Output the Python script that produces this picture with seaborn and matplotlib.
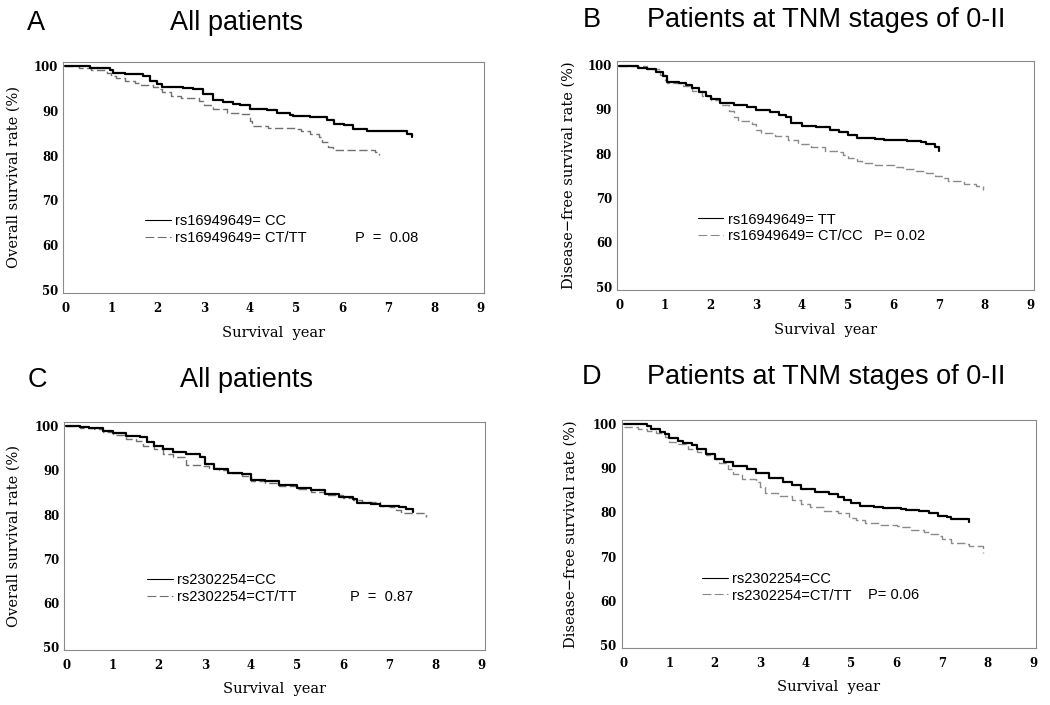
import matplotlib
matplotlib.use('Agg')
import matplotlib.pyplot as plt
from matplotlib.lines import Line2D
import seaborn as sns

# ---- data (year, survival %) ----
# panel A: all patients, rs16949649, overall survival
a_cc_t = [0, 0.53, 0.96, 1.03, 1.3, 1.69, 1.83, 1.98, 2.1, 2.55, 2.77, 2.99, 3.2, 3.42, 3.64, 3.78,
          4.0, 4.36, 4.58, 4.87, 4.94, 5.3, 5.67, 5.81, 6.03, 6.24, 6.53, 7.33, 7.4, 7.51]
a_cc_s = [100, 99.5, 99.0, 98.5, 98.3, 97.8, 96.6, 96.0, 95.3, 95.1, 94.8, 93.8, 92.5, 91.9, 91.5, 91.3,
          90.5, 90.2, 89.6, 89.1, 88.8, 88.6, 88.0, 87.1, 86.9, 85.9, 85.5, 85.5, 84.9, 84.1]
a_ct_t = [0, 0.3, 0.55, 0.9, 1.0, 1.1, 1.3, 1.5, 1.6, 1.9, 2.0, 2.1, 2.3, 2.5, 2.9, 3.0, 3.2, 3.5,
          3.8, 4.0, 4.05, 4.4, 5.0, 5.1, 5.3, 5.5, 5.55, 5.7, 5.8, 6.7, 6.8]
a_ct_s = [100, 99.6, 99.0, 98.5, 97.8, 97.3, 96.7, 96.3, 95.8, 95.4, 94.8, 94.3, 93.4, 92.9, 92.2, 91.3, 90.5, 89.4,
          89.3, 87.8, 86.7, 86.2, 86.0, 85.5, 84.8, 84.2, 83.0, 82.0, 81.2, 80.7, 80.1]

# panel B: TNM 0-II, rs16949649, disease-free survival
b_tt_t = [0, 0.4, 0.6, 0.8, 0.95, 1.05, 1.3, 1.45, 1.6, 1.75, 1.9, 2.0, 2.2, 2.5, 2.8, 3.0, 3.3, 3.5,
          3.65, 3.75, 4.0, 4.3, 4.6, 4.8, 5.0, 5.2, 5.6, 5.8, 6.2, 6.3, 6.6, 6.7, 6.9, 7.0]
b_tt_s = [99.7, 99.3, 99.0, 98.4, 97.5, 96.2, 95.8, 95.4, 94.7, 93.8, 92.9, 92.2, 91.4, 91.0, 90.6, 89.9, 89.3, 88.7,
          88.3, 86.9, 86.3, 86.0, 85.4, 84.8, 84.1, 83.6, 83.4, 83.1, 83.0, 82.8, 82.6, 82.1, 81.4, 80.6]
b_ct_t = [0, 0.6, 0.9, 1.0, 1.05, 1.4, 1.6, 1.8, 2.0, 2.2, 2.4, 2.5, 2.6, 2.9, 3.0, 3.1, 3.4, 3.7, 3.9,
          4.2, 4.5, 4.8, 4.9, 5.0, 5.2, 5.3, 5.6, 6.0, 6.2, 6.5, 6.7, 6.9, 7.1, 7.2, 7.55, 7.8, 7.95]
b_ct_s = [99.7, 99.0, 97.8, 96.5, 95.8, 95.2, 94.0, 93.0, 92.0, 90.9, 89.6, 88.3, 87.4, 86.7, 85.4, 84.6, 83.9, 83.1, 82.2,
          81.5, 80.7, 80.4, 79.6, 79.0, 78.3, 77.9, 77.5, 77.1, 76.5, 76.2, 75.6, 75.0, 74.6, 73.9, 73.1, 72.7, 71.8]

# panel C: all patients, rs2302254, overall survival
c_cc_t = [0, 0.3, 0.5, 0.8, 1.0, 1.3, 1.6, 1.75, 1.9, 2.1, 2.3, 2.6, 2.9, 3.0, 3.2, 3.5, 3.8, 4.0,
          4.3, 4.6, 5.0, 5.3, 5.6, 5.9, 6.2, 6.3, 6.6, 6.8, 7.2, 7.35, 7.5]
c_cc_s = [100, 99.9, 99.5, 99.0, 98.5, 97.9, 97.5, 96.5, 95.6, 94.8, 94.2, 93.8, 93.0, 91.5, 90.4, 89.5, 89.2, 87.9,
          87.5, 86.6, 85.9, 85.5, 84.6, 84.0, 83.5, 82.7, 82.3, 81.9, 81.6, 81.3, 80.6]
c_ct_t = [0, 0.3, 0.6, 0.8, 1.0, 1.3, 1.5, 1.65, 1.9, 2.1, 2.3, 2.6, 2.9, 3.1, 3.3, 3.5, 3.8, 4.0,
          4.3, 4.6, 5.0, 5.3, 5.6, 6.0, 6.2, 6.4, 6.8, 7.0, 7.15, 7.25, 7.7, 7.8]
c_ct_s = [100, 99.5, 99.3, 98.7, 98.0, 97.2, 96.6, 95.6, 94.8, 93.7, 93.0, 91.2, 91.0, 90.6, 90.0, 89.4, 88.8, 87.6,
          87.1, 86.4, 85.7, 85.2, 84.5, 83.7, 83.4, 82.8, 82.0, 81.6, 81.1, 80.4, 80.4, 79.4]

# panel D: TNM 0-II, rs2302254, disease-free survival
d_cc_t = [0, 0.4, 0.5, 0.6, 0.8, 0.9, 1.0, 1.2, 1.3, 1.5, 1.6, 1.8, 2.0, 2.2, 2.4, 2.7, 2.9, 3.2, 3.5,
          3.7, 3.9, 4.2, 4.5, 4.7, 4.85, 5.0, 5.2, 5.5, 5.7, 6.1, 6.2, 6.5, 6.7, 6.9, 7.1, 7.2, 7.5, 7.6]
d_cc_s = [100, 100, 99.5, 98.8, 98.3, 97.8, 96.9, 96.1, 95.8, 95.3, 94.4, 93.3, 92.2, 91.5, 90.6, 89.9, 88.9, 87.9, 86.8,
          86.3, 85.2, 84.6, 84.1, 83.6, 82.8, 82.2, 81.5, 81.2, 80.9, 80.8, 80.5, 80.4, 79.9, 79.3, 78.9, 78.6, 78.4, 77.8]
d_ct_t = [0, 0.3, 0.5, 0.7, 0.9, 1.0, 1.2, 1.4, 1.6, 1.8, 2.0, 2.1, 2.3, 2.4, 2.6, 2.9, 3.0, 3.1, 3.4,
          3.7, 3.9, 4.1, 4.4, 4.7, 4.95, 5.1, 5.3, 5.6, 6.0, 6.1, 6.3, 6.6, 6.7, 6.9, 7.0, 7.2, 7.5, 7.6, 7.85, 7.9]
d_ct_s = [99.3, 98.8, 98.5, 97.9, 97.0, 96.0, 95.4, 94.3, 93.8, 93.0, 92.0, 91.2, 89.9, 88.7, 87.5, 86.8, 85.8, 84.3, 83.8,
          82.8, 82.0, 81.2, 80.4, 79.8, 78.7, 78.2, 77.5, 77.2, 77.0, 76.7, 76.0, 75.6, 75.0, 74.6, 74.0, 73.1, 72.9, 72.4, 72.3, 70.9]

x_ticks = list(range(0, 10))
y_ticks = [50, 60, 70, 80, 90, 100]

panels = [
    # letter, title, ylabel, solid series, dashed series, legend labels, p-text, axes rect (fig fraction)
    dict(letter='A', title='All patients', ylabel='Overall survival rate (%)',
         solid=(a_cc_t, a_cc_s), dashed=(a_ct_t, a_ct_s),
         labels=['rs16949649= CC', 'rs16949649= CT/TT'], ptext='P  =  0.08',
         rect=[0.060, 0.5844, 0.401, 0.3277], leg=(0.195, 0.343), pxy=(0.694, 0.236),
         ylab_x=-0.100, letter_xy=(0.0343, 0.9674), title_xy=(0.2257, 0.9674), dcol='#707070'),
    dict(letter='B', title='Patients at TNM stages of 0-II', ylabel='Disease\u2212free survival rate (%)',
         solid=(b_tt_t, b_tt_s), dashed=(b_ct_t, b_ct_s),
         labels=['rs16949649= TT', 'rs16949649= CT/CC'], ptext='P= 0.02',
         rect=[0.5876, 0.5887, 0.397, 0.325], leg=(0.194, 0.338), pxy=(0.616, 0.234),
         ylab_x=-0.098, letter_xy=(0.5638, 0.9716), title_xy=(0.7871, 0.9716), dcol='#8a8a8a'),
    dict(letter='C', title='All patients', ylabel='Overall survival rate (%)',
         solid=(c_cc_t, c_cc_s), dashed=(c_ct_t, c_ct_s),
         labels=['rs2302254=CC', 'rs2302254=CT/TT'], ptext='P  =  0.87',
         rect=[0.061, 0.078, 0.401, 0.323], leg=(0.197, 0.336), pxy=(0.679, 0.231),
         ylab_x=-0.102, letter_xy=(0.0352, 0.461), title_xy=(0.2352, 0.461), dcol='#707070'),
    dict(letter='D', title='Patients at TNM stages of 0-II', ylabel='Disease\u2212free survival rate (%)',
         solid=(d_cc_t, d_cc_s), dashed=(d_ct_t, d_ct_s),
         labels=['rs2302254=CC', 'rs2302254=CT/TT'], ptext='P= 0.06',
         rect=[0.592, 0.081, 0.395, 0.323], leg=(0.195, 0.335), pxy=(0.593, 0.231),
         ylab_x=-0.106, letter_xy=(0.5638, 0.4652), title_xy=(0.7873, 0.4652), dcol='#8a8a8a'),
]

sns.set_style('white')
plt.rcParams['font.family'] = ['DejaVu Serif']
plt.rcParams['text.color'] = 'black'
plt.rcParams['axes.labelcolor'] = 'black'
plt.rcParams['xtick.color'] = 'black'
plt.rcParams['ytick.color'] = 'black'

fig = plt.figure(figsize=(10.5, 7.05), dpi=100)

for p in panels:
    ax = fig.add_axes(p['rect'])
    st, ss = p['solid']
    dt, ds = p['dashed']
    sns.lineplot(x=dt, y=ds, ax=ax, color=p['dcol'], linewidth=1.0, drawstyle='steps-post',
                 linestyle=(0, (6, 2.5)), estimator=None, sort=False)
    sns.lineplot(x=st, y=ss, ax=ax, color='black', linewidth=1.6, drawstyle='steps-post',
                 estimator=None, sort=False)

    ax.set_xlim(-0.05, 9.07)
    ax.set_ylim(49.3, 100.9)
    ax.set_xticks(x_ticks)
    ax.set_yticks(y_ticks)
    ax.tick_params(axis='both', which='major', labelsize=8.5, length=2.5, width=0.6,
                   color='#555555', direction='out')
    ax.tick_params(axis='y', pad=1)
    ax.tick_params(axis='x', pad=4)
    for lab in ax.get_xticklabels() + ax.get_yticklabels():
        lab.set_fontweight('bold')
    for sp in ax.spines.values():
        sp.set_color('#8a8a8a')
        sp.set_linewidth(0.8)

    ax.set_xlabel('Survival  year', fontsize=10.5)
    ax.set_ylabel(p['ylabel'], fontsize=10.5)
    ax.xaxis.set_label_coords(0.5, -0.142)
    ax.yaxis.set_label_coords(p['ylab_x'], 0.5)

    handles = [Line2D([], [], color='black', linewidth=0.8),
               Line2D([], [], color=p['dcol'], linewidth=0.8, linestyle=(0, (8, 3)))]
    ax.legend(handles, p['labels'], loc='upper left', bbox_to_anchor=p['leg'], frameon=False,
              borderpad=0, borderaxespad=0, handlelength=1.75, handletextpad=0.3, labelspacing=0.2,
              prop={'family': 'Liberation Sans', 'size': 10.5})
    ax.text(p['pxy'][0], p['pxy'][1], p['ptext'], transform=ax.transAxes, ha='left', va='center',
            family='Liberation Sans', fontsize=10.5)

    fig.text(p['letter_xy'][0], p['letter_xy'][1], p['letter'], ha='center', va='center',
             family='Liberation Sans', fontsize=19.5)
    fig.text(p['title_xy'][0], p['title_xy'][1], p['title'], ha='center', va='center',
             family='Liberation Sans', fontsize=19.5)

fig.savefig('out.png', dpi=100)
